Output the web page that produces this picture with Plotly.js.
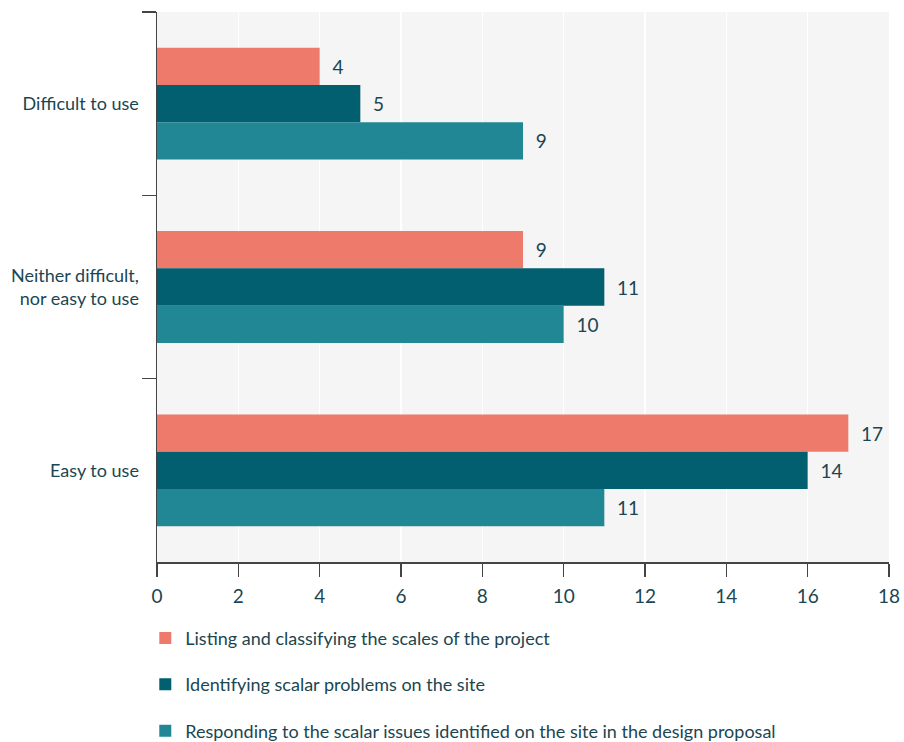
<!DOCTYPE html>
<html>
<head>
<meta charset="utf-8">
<script src="https://cdn.plot.ly/plotly-3.0.1.min.js"></script>
<style>html,body{margin:0;padding:0;background:#fff;}#chart{width:904px;height:742px;}</style>
</head>
<body>
<div id="chart"></div>
<script>
const categories = ['Difficult to use', 'Neither difficult,<br>nor easy to use', 'Easy to use'];
const seriesNames = [
  'Listing and classifying the scales of the project',
  'Identifying scalar problems on the site',
  'Responding to the scalar issues identified on the site in the design proposal'
];
const listingValues = [4, 9, 17];
const identifyingValues = [5, 11, 16];
const respondingValues = [9, 10, 11];
const listingLabels = ['4', '9', '17'];
const identifyingLabels = ['5', '11', '14'];
const respondingLabels = ['9', '10', '11'];
const xTicks = [0, 2, 4, 6, 8, 10, 12, 14, 16, 18];

const colors = ['#EE7A6B', '#025F6F', '#228794'];
const textColor = '#1B4651';
const fontFamily = 'Lato, "Open Sans", sans-serif';

const vals = [listingValues, identifyingValues, respondingValues];
const labs = [listingLabels, identifyingLabels, respondingLabels];

const data = vals.map((v, i) => ({
  type: 'bar',
  orientation: 'h',
  name: seriesNames[i],
  y: categories,
  x: v,
  text: labs[i].map(t => '  ' + t),
  textposition: 'outside',
  cliponaxis: false,
  textfont: {family: fontFamily, size: 19, color: textColor},
  marker: {color: colors[i], line: {width: 0}},
  legendgroup: 'g' + i,
  hoverinfo: 'x+y'
}));

const layout = {
  width: 904,
  height: 742,
  margin: {l: 157, r: 15, t: 12, b: 180, autoexpand: false},
  paper_bgcolor: '#ffffff',
  plot_bgcolor: '#F5F5F5',
  barmode: 'group',
  bargap: 0.39,
  bargroupgap: 0,
  font: {family: fontFamily, size: 18, color: textColor},
  xaxis: {
    range: [0, 18],
    tickvals: xTicks,
    ticktext: xTicks.map(String),
    ticks: 'outside',
    ticklen: 13,
    tickwidth: 1.5,
    tickcolor: '#444',
    showline: true,
    linecolor: '#444',
    linewidth: 1.5,
    showgrid: true,
    gridcolor: '#ffffff',
    gridwidth: 1.5,
    zeroline: false,
    ticklabelstandoff: 4,
    tickfont: {family: fontFamily, size: 19, color: textColor},
    fixedrange: true
  },
  yaxis: {
    type: 'category',
    categoryorder: 'array',
    categoryarray: categories,
    range: [2.5, -0.5],
    tickson: 'boundaries',
    ticks: 'outside',
    ticklen: 14,
    tickwidth: 1.5,
    tickcolor: '#444',
    showline: true,
    linecolor: '#444',
    linewidth: 1.5,
    showgrid: false,
    zeroline: false,
    ticklabelstandoff: 13,
    tickfont: {family: fontFamily, size: 18, color: textColor},
    fixedrange: true
  },
  showlegend: true,
  legend: {
    orientation: 'v',
    x: -0.016,
    xanchor: 'left',
    y: -0.105,
    yanchor: 'top',
    traceorder: 'grouped',
    tracegroupgap: 20,
    font: {family: fontFamily, size: 18, color: textColor},
    bgcolor: 'rgba(0,0,0,0)',
    itemclick: false,
    itemdoubleclick: false
  }
};

Plotly.newPlot('chart', data, layout, {displayModeBar: false, staticPlot: true});
</script>
</body>
</html>
